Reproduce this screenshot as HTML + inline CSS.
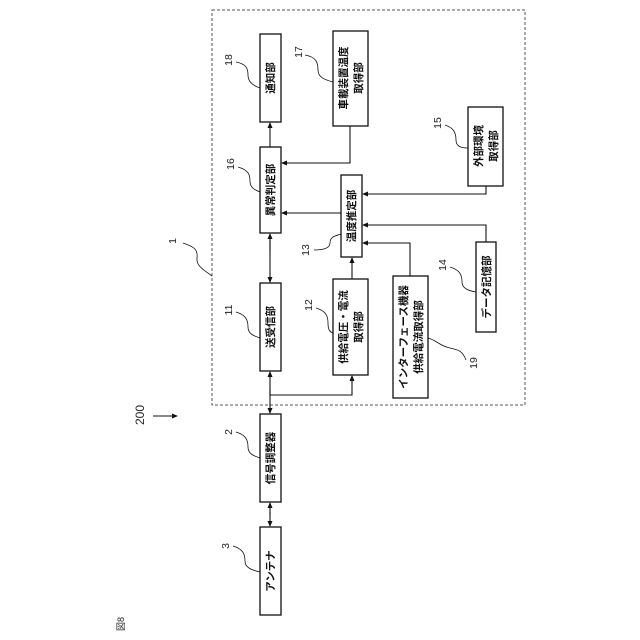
<!DOCTYPE html>
<html><head><meta charset="utf-8"><style>
html,body{margin:0;padding:0;background:#fff;}
svg{display:block;font-family:"Liberation Sans","Noto Sans CJK JP",sans-serif;}
.b{font-size:10.5px;font-weight:bold;fill:#111;}
.n{font-size:10.5px;fill:#222;}
</style></head><body>
<svg width="640" height="640" viewBox="0 0 640 640" xmlns="http://www.w3.org/2000/svg">
<defs>
<marker id="a" markerWidth="6" markerHeight="6" refX="5" refY="3" orient="auto" markerUnits="userSpaceOnUse"><path d="M0,0.5 L6,3 L0,5.5z" fill="#111"/></marker>
</defs>
<g fill="#fff" stroke="#111" stroke-width="1.3">
<rect x="212" y="10" width="313" height="395" stroke="#555" stroke-dasharray="3,2" fill="none" stroke-width="1"/>
<rect x="260" y="34" width="21" height="88"/>
<rect x="333" y="31" width="35" height="95"/>
<rect x="260" y="147" width="21" height="86"/>
<rect x="341" y="175" width="21" height="82"/>
<rect x="468" y="107" width="35" height="79"/>
<rect x="260" y="283" width="21" height="88"/>
<rect x="333" y="279" width="35" height="96"/>
<rect x="393" y="276" width="35" height="122"/>
<rect x="476" y="242" width="20" height="90"/>
<rect x="260" y="414" width="21" height="88"/>
<rect x="260" y="527" width="21" height="88"/>
</g>
<g stroke="#111" stroke-width="1.1" fill="none">
<line x1="270" y1="147" x2="270" y2="123" marker-end="url(#a)"/>
<line x1="270" y1="240" x2="270" y2="282" marker-end="url(#a)"/>
<path d="M270,250 L270,234" marker-end="url(#a)"/>
<polyline points="350,126 350,163 282,163" marker-end="url(#a)"/>
<line x1="341" y1="213" x2="282" y2="213" marker-end="url(#a)"/>
<line x1="352" y1="279" x2="352" y2="258" marker-end="url(#a)"/>
<polyline points="486,186 486,194 363,194" marker-end="url(#a)"/>
<polyline points="486,242 486,225 363,225" marker-end="url(#a)"/>
<polyline points="410,276 410,243 363,243" marker-end="url(#a)"/>
<path d="M270,395 L270,372" marker-end="url(#a)"/>
<path d="M270,390 L270,413" marker-end="url(#a)"/>
<polyline points="270,395 352,395 352,376" marker-end="url(#a)"/>
<path d="M270,515 L270,503" marker-end="url(#a)"/>
<path d="M270,512 L270,526" marker-end="url(#a)"/>
<line x1="153" y1="416" x2="177" y2="416" marker-end="url(#a)"/>
<path d="M183,243 C195,247 198,250 197,258 C196,266 204,270 212,276" stroke-width="0.8"/>
<path d="M236,62 C246,64 248,68 248,75 C248,82 254,86 260,88" stroke-width="0.8"/>
<path d="M305,55 C316,57 318,62 318,70 C318,78 326,80 333,82" stroke-width="0.8"/>
<path d="M238,167 C248,170 250,174 250,181 C250,188 255,190 260,192" stroke-width="0.8"/>
<path d="M445,125 C454,128 456,133 456,140 C456,147 462,148 468,148" stroke-width="0.8"/>
<path d="M314,250 C324,250 330,248 330,243 C330,236 336,236 341,234" stroke-width="0.8"/>
<path d="M316,308 C326,311 328,316 328,323 C328,330 330,332 333,333" stroke-width="0.8"/>
<path d="M236,312 C246,315 248,320 248,327 C248,334 254,336 260,338" stroke-width="0.8"/>
<path d="M450,267 C460,270 462,275 462,282 C462,289 470,291 476,292" stroke-width="0.8"/>
<path d="M466,360 C462,350 458,350 450,348 C440,346 436,340 428,338" stroke-width="0.8"/>
<path d="M236,432 C246,435 248,440 248,447 C248,454 254,456 260,458" stroke-width="0.8"/>
<path d="M233,546 C243,549 245,554 245,561 C245,568 252,570 260,572" stroke-width="0.8"/>
</g>
<g text-anchor="middle" class="b">
<text transform="translate(274,78) rotate(-90)">通知部</text>
<text transform="translate(347,78) rotate(-90)">車載装置温度</text>
<text transform="translate(362,78) rotate(-90)">取得部</text>
<text transform="translate(274,190) rotate(-90)">異常判定部</text>
<text transform="translate(355,216) rotate(-90)">温度推定部</text>
<text transform="translate(482,146) rotate(-90)">外部環境</text>
<text transform="translate(497,146) rotate(-90)">取得部</text>
<text transform="translate(274,327) rotate(-90)">送受信部</text>
<text transform="translate(347,327) rotate(-90)">供給電圧・電流</text>
<text transform="translate(362,327) rotate(-90)">取得部</text>
<text transform="translate(407,337) rotate(-90)">インターフェース機器</text>
<text transform="translate(422,337) rotate(-90)">供給電流取得部</text>
<text transform="translate(490,287) rotate(-90)">データ記憶部</text>
<text transform="translate(274,458) rotate(-90)">信号調整器</text>
<text transform="translate(274,571) rotate(-90)">アンテナ</text>
</g>
<g text-anchor="middle" class="n">
<text transform="translate(176,241) rotate(-90)">1</text>
<text transform="translate(232,60) rotate(-90)">18</text>
<text transform="translate(302,52) rotate(-90)">17</text>
<text transform="translate(234,164) rotate(-90)">16</text>
<text transform="translate(441,123) rotate(-90)">15</text>
<text transform="translate(309,250) rotate(-90)">13</text>
<text transform="translate(312,305) rotate(-90)">12</text>
<text transform="translate(232,310) rotate(-90)">11</text>
<text transform="translate(446,265) rotate(-90)">14</text>
<text transform="translate(477,363) rotate(-90)">19</text>
<text transform="translate(232,432) rotate(-90)">2</text>
<text transform="translate(229,546) rotate(-90)">3</text>
<text transform="translate(144,415) rotate(-90)" style="font-size:12px">200</text>
<text transform="translate(124,624) rotate(-90)" style="font-size:9px">図8</text>
</g>
</svg>
</body></html>
